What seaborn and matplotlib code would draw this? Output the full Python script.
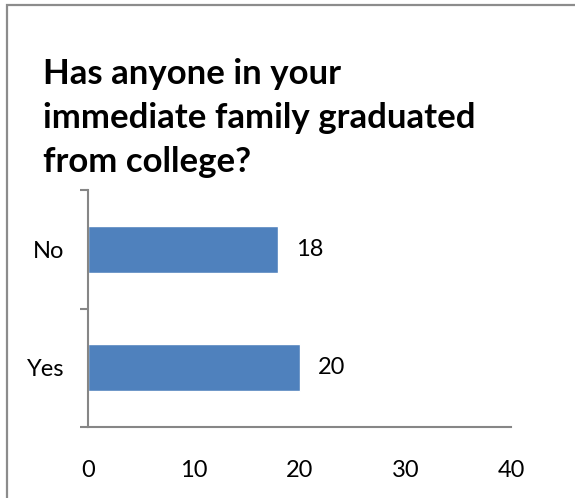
import matplotlib
matplotlib.use("Agg")
import matplotlib.pyplot as plt
from matplotlib.patches import Rectangle
import seaborn as sns
import pandas as pd

# Survey responses
answers = ["No", "Yes"]
counts = [18, 20]
x_ticks = [0, 10, 20, 30, 40]
title_lines = ["Has anyone in your", "immediate family graduated", "from college?"]

df = pd.DataFrame({"answer": answers, "count": counts})

sns.set_theme(style="white")
plt.rcParams["font.family"] = ["Lato", "DejaVu Sans"]

W, H, DPI = 575, 498, 100
fig = plt.figure(figsize=(W / DPI, H / DPI), dpi=DPI)
ax = fig.add_axes([88 / W, 1 - 427 / H, (511 - 88) / W, (427 - 190) / H])

bar_color = "#4F81BD"
axis_color = "#868686"

sns.barplot(data=df, x="count", y="answer", orient="h", order=answers,
            color=bar_color, saturation=1, width=0.4, ax=ax)

ax.set_xlim(0, 40)
ax.set_ylim(1.5, -0.5)
ax.set_xticks(x_ticks)
ax.set_xticklabels([str(t) for t in x_ticks])
ax.set_xlabel("")
ax.set_ylabel("")

# category separators as outward minor ticks on the category axis
ax.set_yticks([-0.5, 0.5, 1.5], minor=True)
ax.tick_params(axis="y", which="minor", length=8 * 72 / DPI, width=1.5,
               color=axis_color, direction="out", left=True)
ax.tick_params(axis="y", which="major", length=0, pad=17, labelsize=17,
               labelcolor="black")
ax.tick_params(axis="x", which="major", length=0, pad=23.5, labelsize=17,
               labelcolor="black")

for side in ["top", "right"]:
    ax.spines[side].set_visible(False)
for side in ["left", "bottom"]:
    ax.spines[side].set_color(axis_color)
    ax.spines[side].set_linewidth(1.5)

for cont in ax.containers:
    ax.bar_label(cont, labels=[str(c) for c in counts], padding=13,
                 fontsize=17, color="black")

# chart title, left aligned in three lines
for i, line in enumerate(title_lines):
    fig.text(43 / W, 1 - (84 + 44 * i) / H, line, ha="left", va="baseline",
             fontsize=25, fontweight="bold", color="black")

# chart area frame running off the right and bottom edges
fig.patches.append(Rectangle((6.5 / W, -0.1), 1.2, 1 - 5.5 / H + 0.1,
                             transform=fig.transFigure, fill=False,
                             edgecolor="#8C8C8C", linewidth=1.6))

fig.savefig("out.png", dpi=DPI)
